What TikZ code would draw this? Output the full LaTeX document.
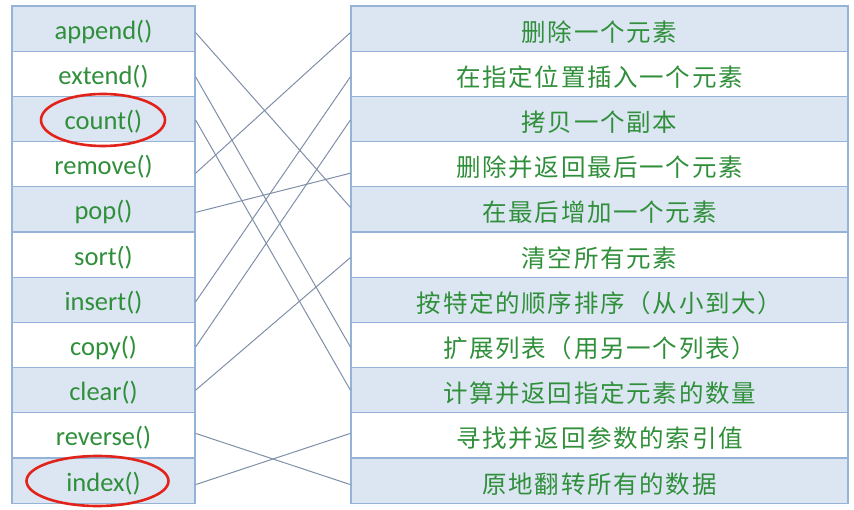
\documentclass[tikz,border=0pt]{standalone}
\usepackage{fontspec}
\setmainfont{Carlito}
\newfontfamily\cjk[LetterSpace=7]{Noto Sans CJK SC}
\definecolor{cellfill}{HTML}{DCE6F2}
\definecolor{cellline}{HTML}{95B3D7}
\definecolor{txtgreen}{HTML}{2F8F3A}
\definecolor{linkcol}{HTML}{7F8FA8}
\definecolor{markred}{HTML}{E2231A}
\begin{document}
\begin{tikzpicture}[x=1pt,y=-1pt,
  cellbase/.style={draw=cellline, line width=1.2pt, text=txtgreen, inner sep=0pt, minimum height=45.2pt},
  lcell/.style={cellbase, minimum width=183pt, text height=23pt, text depth=2pt, font=\fontsize{26.5}{28}\selectfont},
  rcell/.style={cellbase, minimum width=497pt, text height=27pt, text depth=2pt, font=\cjk\fontsize{24.5}{28}\selectfont},
  blue/.style={fill=cellfill},
  white/.style={fill=white},
  link/.style={draw=linkcol, line width=1pt},
  redmark/.style={draw=markred, line width=2.6pt}
]
\useasboundingbox (0,0) rectangle (854,510);
% left column
\foreach \i/\t/\f in {1/append()/blue,2/extend()/white,3/count()/blue,4/remove()/white,5/pop()/blue,6/sort()/white,7/insert()/blue,8/copy()/white,9/clear()/blue,10/reverse()/white,11/index()/blue}{
  \node[lcell,\f] (L\i) at (103.5,{6+45.2*(\i-0.5)}) {\t};
}
% right column
\foreach \i/\t/\f in {1/删除一个元素/blue,2/在指定位置插入一个元素/white,3/拷贝一个副本/blue,4/删除并返回最后一个元素/white,5/在最后增加一个元素/blue,6/清空所有元素/white,7/按特定的顺序排序（从小到大）/blue,8/扩展列表（用另一个列表）/white,9/计算并返回指定元素的数量/blue,10/寻找并返回参数的索引值/white,11/原地翻转所有的数据/blue}{
  \node[rcell,\f] (R\i) at (599.5,{6+45.2*(\i-0.5)}) {\t};
}
% connectors
\draw[link] ([yshift=-4pt]L1.east) -- ([yshift=2pt]R5.west);
\draw[link] ([yshift=-3pt]L2.east) -- ([yshift=-2pt]R8.west);
\draw[link] ([yshift=-1pt]L3.east) -- ([yshift=0pt]R9.west);
\draw[link] ([yshift=-9pt]L4.east) -- ([yshift=-4pt]R1.west);
\draw[link] ([yshift=-3pt]L5.east) -- ([yshift=-9pt]R4.west);
\draw[link] ([yshift=-2pt]L7.east) -- ([yshift=-3pt]R2.west);
\draw[link] ([yshift=-2pt]L8.east) -- ([yshift=-1pt]R3.west);
\draw[link] ([yshift=0pt]L9.east) -- ([yshift=-3pt]R6.west);
\draw[link] ([yshift=2pt]L10.east) -- ([yshift=-4pt]R11.west);
\draw[link] ([yshift=-4pt]L11.east) -- ([yshift=2pt]R10.west);
% red marks
\draw[redmark] (103,120) ellipse [x radius=62pt, y radius=26pt];
\draw[redmark] (97.5,481) ellipse [x radius=71pt, y radius=25pt];
\end{tikzpicture}
\end{document}
